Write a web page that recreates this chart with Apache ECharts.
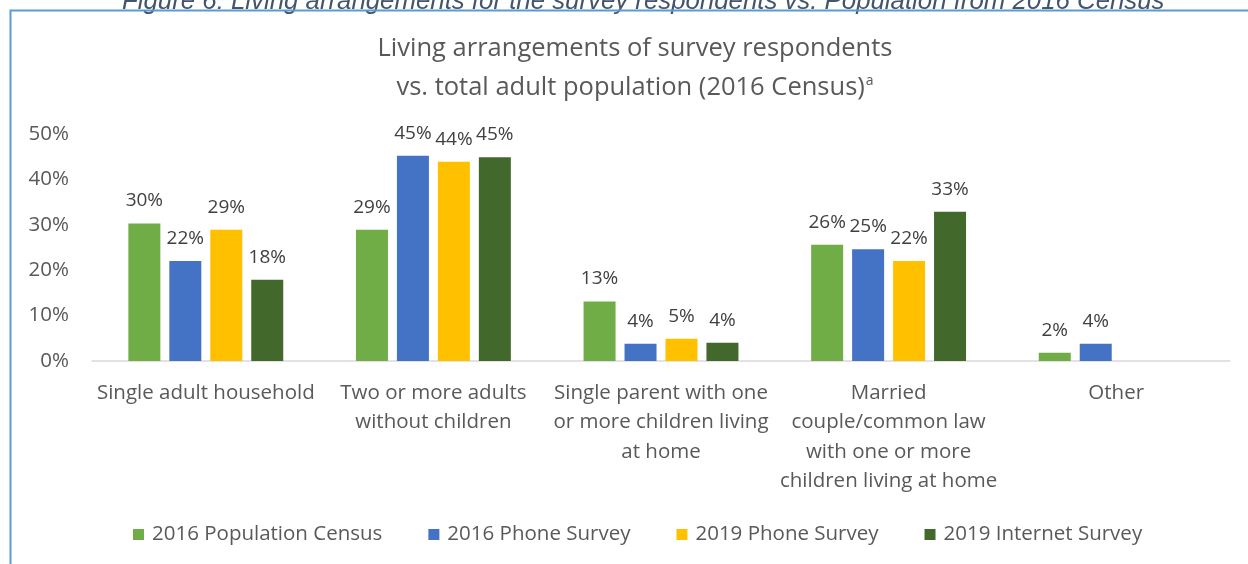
<!DOCTYPE html>
<html>
<head>
<meta charset="utf-8">
<script src="https://cdn.jsdelivr.net/npm/echarts@6/dist/echarts.min.js"></script>
<style>
  html, body { margin: 0; padding: 0; background: #fff; }
  #chart { width: 1248px; height: 564px; }
</style>
</head>
<body>
<div id="chart"></div>
<script>
// Living arrangements by source, share of respondents (%)
const categories = [
  'Single adult household',
  'Two or more adults\nwithout children',
  'Single parent with one\nor more children living\nat home',
  'Married\ncouple/common law\nwith one or more\nchildren living at home',
  'Other'
];
const seriesNames = ['2016 Population Census', '2016 Phone Survey', '2019 Phone Survey', '2019 Internet Survey'];
const census2016 = [30.3, 28.9, 13.1, 25.6, 1.8];
const phone2016 = [22.0, 45.2, 3.8, 24.6, 3.8];
const phone2019 = [28.9, 43.9, 4.9, 22.0, null];
const internet2019 = [17.9, 44.9, 4.0, 32.9, null];
const yTicks = [0, 10, 20, 30, 40, 50];
const colors = ['#70AD47', '#4472C4', '#FFC000', '#43682B'];

const FONT = 'Open Sans';
const seriesData = [census2016, phone2016, phone2019, internet2019];

const chart = echarts.init(document.getElementById('chart'), null, { renderer: 'canvas' });

chart.setOption({
  backgroundColor: '#ffffff',
  animation: false,
  textStyle: { fontFamily: FONT },
  title: {
    left: 630,
    top: 24,
    textAlign: 'center',
    text: '{t|Living arrangements of survey respondents}\n{t|vs. total adult population (2016 Census)}{sup|a}',
    textStyle: {
      rich: {
        t: { fontFamily: FONT, fontWeight: 'normal', fontSize: 25.5, color: '#595959', lineHeight: 39 },
        sup: { fontFamily: FONT, fontWeight: 'normal', fontSize: 14, color: '#595959', lineHeight: 28, verticalAlign: 'top', padding: [6, 0, 0, 1] }
      }
    }
  },
  legend: {
    bottom: 14,
    left: 128,
    itemWidth: 11,
    itemHeight: 11,
    itemGap: 46,
    icon: 'rect',
    textStyle: { fontFamily: FONT, fontSize: 20.5, color: '#595959', padding: [0, 0, 0, 3] },
    data: seriesNames
  },
  grid: { left: 92, right: 18, top: 134, bottom: 203, containLabel: false },
  xAxis: {
    type: 'category',
    data: categories,
    axisLine: { lineStyle: { color: '#D9D9D9', width: 1.5 } },
    axisTick: { show: false },
    axisLabel: { fontFamily: FONT, fontSize: 20.5, color: '#595959', lineHeight: 29.5, margin: 17, interval: 0, align: 'center' }
  },
  yAxis: {
    type: 'value',
    min: 0,
    max: yTicks[yTicks.length - 1],
    interval: 10,
    axisLine: { show: false },
    axisTick: { show: false },
    splitLine: { show: false },
    axisLabel: { fontFamily: FONT, fontSize: 20.5, color: '#595959', margin: 23, formatter: v => v + '%' }
  },
  series: seriesNames.map((name, i) => ({
    name,
    type: 'bar',
    data: seriesData[i],
    barWidth: 32,
    barGap: '28%',
    itemStyle: { color: colors[i] },
    label: {
      show: true,
      position: 'top',
      distance: 13,
      fontFamily: FONT,
      fontSize: 19,
      color: '#404040',
      formatter: p => Math.round(p.value) + '%'
    }
  })),
  graphic: [
    {
      type: 'text',
      left: 122,
      top: -11,
      style: {
        text: 'Figure 6: Living arrangements for the survey respondents vs. Population from 2016 Census',
        font: 'italic 25.8px "Liberation Sans", Arial, sans-serif',
        fill: '#44546A'
      },
      z: 10
    },
    {
      type: 'polyline',
      shape: { points: [[10.5, 564], [10.5, 10.5], [1248, 10.5]] },
      style: { stroke: '#5B9BD5', lineWidth: 2, fill: null },
      z: 11
    }
  ]
});
</script>
</body>
</html>
